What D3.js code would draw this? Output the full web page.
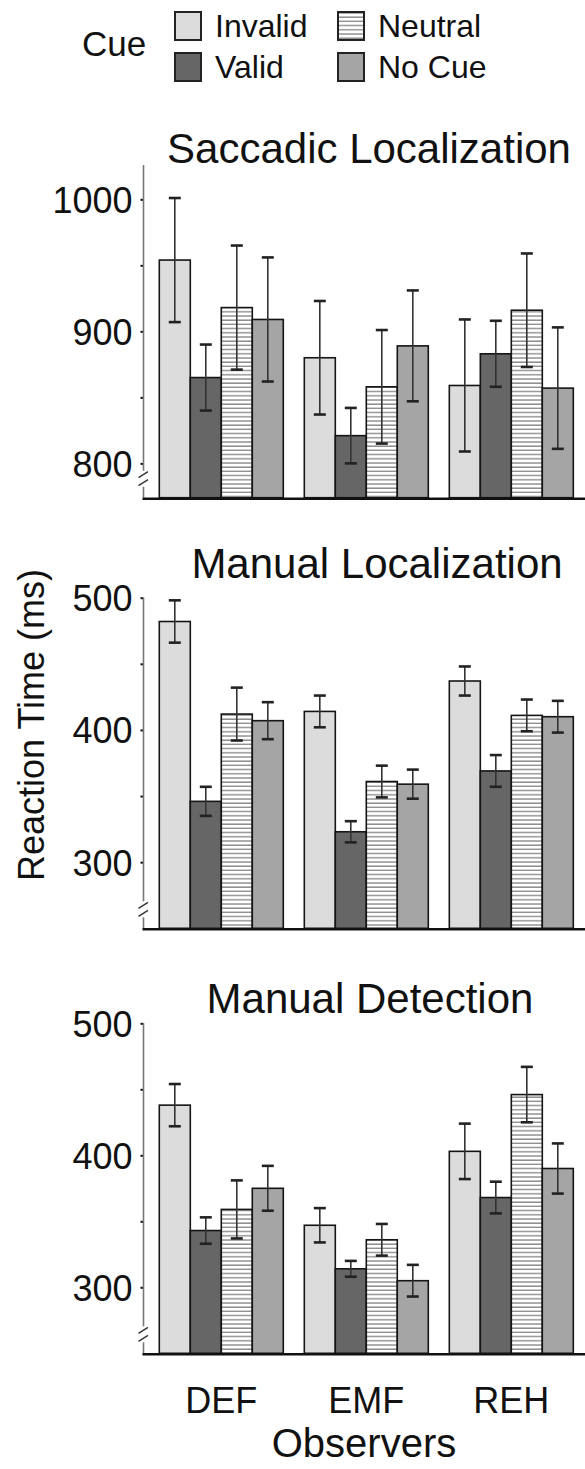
<!DOCTYPE html>
<html>
<head>
<meta charset="utf-8">
<script src="https://cdn.jsdelivr.net/npm/d3@7"></script>
<style>
  body { margin: 0; background: #fff; }
  svg text { font-family: "Liberation Sans", Arial, sans-serif; fill: #111; }
</style>
</head>
<body>
<svg id="chart" width="585" height="1469"></svg>
<script>

// observers and cue conditions
var observers = ['DEF', 'EMF', 'REH'];
var cues = ['Invalid', 'Valid', 'Neutral', 'No Cue'];

// mean reaction times (ms), one row per observer, in cue order
var saccadicMean = [[954, 865, 918, 909], [880, 821, 858, 889], [859, 883, 916, 857]];
var saccadicErr  = [[47, 25, 47, 47], [43, 21, 43, 42], [50, 25, 43, 46]];

var manualLocMean = [[482, 346, 412, 407], [414, 323, 361, 359], [437, 369, 411, 410]];
var manualLocErr  = [[16, 11, 20, 14], [12, 8, 12, 11], [11, 12, 12, 12]];

var manualDetMean = [[438, 343, 359, 375], [347, 314, 336, 305], [403, 368, 446, 390]];
var manualDetErr  = [[16, 10, 22, 17], [13, 6, 12, 12], [21, 12, 21, 19]];

// tick labels
var saccadicTicks = [800, 900, 1000];
var manualTicks = [300, 400, 500];

var panels = [
  { title: 'Saccadic Localization', means: saccadicMean, errs: saccadicErr,
    domain: [774, 1026], range: [497.7, 165], ticks: saccadicTicks, titleX: 369, titleY: 163 },
  { title: 'Manual Localization', means: manualLocMean, errs: manualLocErr,
    domain: [250, 500], range: [928.3, 597.7], ticks: manualTicks, titleX: 377, titleY: 578 },
  { title: 'Manual Detection', means: manualDetMean, errs: manualDetErr,
    domain: [250, 500], range: [1353.3, 1023.3], ticks: manualTicks, titleX: 370, titleY: 1013 }
];

var fills = {
  'Invalid': '#dcdcdc',
  'Valid': '#666666',
  'Neutral': 'url(#stripes)',
  'No Cue': '#a5a5a5'
};

var axisX = 143.5;
var svg = d3.select('#chart');

// horizontal stripe pattern for neutral cue
var pat = svg.append('defs').append('pattern')
  .attr('id', 'stripes')
  .attr('patternUnits', 'userSpaceOnUse')
  .attr('width', 8).attr('height', 4.2);
pat.append('rect').attr('width', 8).attr('height', 4.2).attr('fill', '#fff');
pat.append('line')
  .attr('x1', 0).attr('x2', 8).attr('y1', 1).attr('y2', 1)
  .attr('stroke', '#8a8a8a').attr('stroke-width', 1.4);

// group and bar positions
var x0 = d3.scaleBand().domain(observers).range([144.8, 587.8]).paddingInner(0.145).paddingOuter(0.1);
var x1 = d3.scaleBand().domain(cues).range([0, x0.bandwidth()]);

panels.forEach(function(p) {
  var y = d3.scaleLinear().domain(p.domain).range(p.range);
  var g = svg.append('g');
  var base = p.range[0];

  // title
  g.append('text')
    .attr('x', p.titleX).attr('y', p.titleY)
    .attr('text-anchor', 'middle')
    .attr('font-size', 42)
    .text(p.title);

  // bars
  var rows = [];
  observers.forEach(function(o, i) {
    cues.forEach(function(c, j) {
      rows.push({ obs: o, cue: c, mean: p.means[i][j], err: p.errs[i][j] });
    });
  });

  g.selectAll('rect.bar').data(rows).enter().append('rect')
    .attr('class', 'bar')
    .attr('x', function(d) { return x0(d.obs) + x1(d.cue); })
    .attr('y', function(d) { return y(d.mean); })
    .attr('width', x1.bandwidth())
    .attr('height', function(d) { return base - y(d.mean); })
    .attr('fill', function(d) { return fills[d.cue]; })
    .attr('stroke', '#151515')
    .attr('stroke-width', 1.6);

  // error bars
  var eb = g.selectAll('g.err').data(rows).enter().append('g')
    .attr('class', 'err')
    .attr('transform', function(d) {
      return 'translate(' + (x0(d.obs) + x1(d.cue) + x1.bandwidth() / 2) + ',0)';
    });
  eb.append('line')
    .attr('y1', function(d) { return y(d.mean + d.err); })
    .attr('y2', function(d) { return y(d.mean - d.err); })
    .attr('stroke', '#333').attr('stroke-width', 1.6);
  eb.append('line')
    .attr('x1', -6).attr('x2', 6)
    .attr('y1', function(d) { return y(d.mean + d.err); })
    .attr('y2', function(d) { return y(d.mean + d.err); })
    .attr('stroke', '#222').attr('stroke-width', 2.6);
  eb.append('line')
    .attr('x1', -6).attr('x2', 6)
    .attr('y1', function(d) { return y(d.mean - d.err); })
    .attr('y2', function(d) { return y(d.mean - d.err); })
    .attr('stroke', '#222').attr('stroke-width', 2.6);

  // y axis with a break near the bottom
  var yAxis = d3.axisLeft(y)
    .tickValues(d3.range(p.ticks[0], p.ticks[p.ticks.length - 1] + 1, 50))
    .tickSize(3)
    .tickFormat(function(v) { return p.ticks.indexOf(v) >= 0 ? v : ''; });
  var ax = g.append('g').attr('transform', 'translate(' + axisX + ',0)').call(yAxis);
  ax.select('.domain').remove();
  ax.selectAll('.tick line').attr('stroke', '#111').attr('stroke-width', 2);
  ax.selectAll('.tick text')
    .attr('font-size', 36)
    .attr('x', -11)
    .attr('dy', '0.36em')
    .attr('fill', '#111');

  g.append('line')
    .attr('x1', axisX).attr('x2', axisX)
    .attr('y1', p.range[1]).attr('y2', base - 27)
    .attr('stroke', '#777').attr('stroke-width', 1.6);
  g.append('line')
    .attr('x1', axisX).attr('x2', axisX)
    .attr('y1', base - 11).attr('y2', base)
    .attr('stroke', '#777').attr('stroke-width', 1.6);
  [[-26, -20], [-18, -12]].forEach(function(b) {
    g.append('line')
      .attr('x1', axisX - 5).attr('x2', axisX + 4.5)
      .attr('y1', base + b[1]).attr('y2', base + b[0])
      .attr('stroke', '#333').attr('stroke-width', 1.4);
  });

  // x baseline
  g.append('line')
    .attr('x1', axisX - 1).attr('x2', 585)
    .attr('y1', base + 1).attr('y2', base + 1)
    .attr('stroke', '#111').attr('stroke-width', 2.4);
});

// observer labels
svg.selectAll('text.obs').data(observers).enter().append('text')
  .attr('class', 'obs')
  .attr('x', function(d) { return x0(d) + x0.bandwidth() / 2; })
  .attr('y', 1413)
  .attr('text-anchor', 'middle')
  .attr('font-size', 36)
  .text(function(d) { return d; });

svg.append('text')
  .attr('x', 364).attr('y', 1457)
  .attr('text-anchor', 'middle')
  .attr('font-size', 40)
  .text('Observers');

// y axis title
svg.append('text')
  .attr('transform', 'translate(44,725) rotate(-90)')
  .attr('text-anchor', 'middle')
  .attr('font-size', 36)
  .text('Reaction Time (ms)');

// legend
svg.append('text')
  .attr('x', 82).attr('y', 56)
  .attr('font-size', 35)
  .text('Cue');

var legendPos = [
  { cue: 'Invalid', x: 175, y: 12 },
  { cue: 'Valid', x: 175, y: 53 },
  { cue: 'Neutral', x: 338, y: 12 },
  { cue: 'No Cue', x: 338, y: 53 }
];
var lg = svg.selectAll('g.legend').data(legendPos).enter().append('g')
  .attr('class', 'legend')
  .attr('transform', function(d) { return 'translate(' + d.x + ',' + d.y + ')'; });
lg.append('rect')
  .attr('width', 26).attr('height', 28)
  .attr('fill', function(d) { return fills[d.cue]; })
  .attr('stroke', '#222').attr('stroke-width', 2);
lg.append('text')
  .attr('x', 40).attr('y', 25)
  .attr('font-size', 32)
  .text(function(d) { return d.cue; });

</script>
</body>
</html>
